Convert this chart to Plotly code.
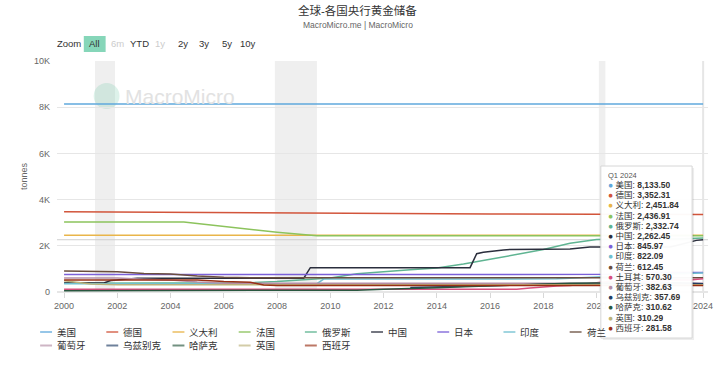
import plotly.graph_objects as go

# ---------------- data (tonnes, quarterly readings) ----------------
countries = ["美国", "德国", "义大利", "法国", "俄罗斯", "中国", "日本", "印度",
             "荷兰", "土耳其", "葡萄牙", "乌兹别克", "哈萨克", "英国", "西班牙"]
colors = ["#5fa8dc", "#d2553b", "#e9b54a", "#8cc35c", "#5fb492", "#2b2e3d", "#7b60d8",
          "#6fc0d0", "#6a4e3e", "#d84f7d", "#b48ea6", "#223f66", "#28573f", "#bcb27a", "#992f15"]

us_dates = ["2000-01", "2005-01", "2024-01"]
us_vals = [8137.0, 8133.5, 8133.5]

de_dates = ["2000-01", "2004-01", "2008-01", "2010-01", "2012-01", "2016-01", "2020-01", "2024-01"]
de_vals = [3469, 3440, 3417, 3401, 3391, 3378, 3362, 3352.31]

it_dates = ["2000-01", "2024-01"]
it_vals = [2451.84, 2451.84]

fr_dates = ["2000-01", "2004-07", "2005-01", "2006-01", "2007-01", "2008-01", "2009-07", "2024-01"]
fr_vals = [3025, 3025, 2960, 2825, 2710, 2586, 2435, 2436.91]

ru_dates = ["2000-01", "2003-01", "2006-01", "2007-01", "2008-01", "2009-01", "2010-01", "2011-01",
            "2012-01", "2013-01", "2014-01", "2015-01", "2016-01", "2017-01", "2018-01", "2019-01",
            "2020-01", "2021-01", "2022-01", "2023-01", "2024-01"]
ru_vals = [384, 390, 387, 402, 450, 520, 608, 790, 883, 958, 1035, 1208, 1415, 1615, 1839, 2113,
           2271, 2299, 2298, 2299, 2332.74]

cn_dates = ["2000-01", "2001-07", "2001-10", "2002-10", "2009-01", "2009-04", "2015-04", "2015-07",
            "2015-10", "2016-01", "2016-07", "2016-10", "2018-10", "2019-01", "2019-10", "2022-10",
            "2023-01", "2023-04", "2023-07", "2023-10", "2024-01"]
cn_vals = [395, 395, 500, 600, 600, 1054, 1054, 1658, 1722, 1762, 1823, 1843, 1843, 1864, 1948, 1948,
           2010, 2076, 2165, 2235, 2262.45]

jp_dates = ["2000-01", "2003-01", "2004-01", "2020-10", "2021-01", "2024-01"]
jp_vals = [754, 754, 765, 765, 845.97, 845.97]

in_dates = ["2000-01", "2009-07", "2009-10", "2017-10", "2018-07", "2019-01", "2019-07", "2020-01",
            "2020-07", "2021-01", "2021-07", "2022-01", "2022-07", "2023-01", "2023-07", "2024-01"]
in_vals = [357.7, 357.7, 557.7, 557.8, 570, 598, 618, 640, 662, 680, 720, 754, 768, 787, 800, 822.09]

nl_dates = ["2000-01", "2001-01", "2002-01", "2003-01", "2004-01", "2005-01", "2006-01", "2007-01",
            "2008-01", "2024-01"]
nl_vals = [912, 893, 873, 800, 778, 694, 640, 621, 612.5, 612.45]

tr_dates = ["2000-01", "2017-01", "2017-07", "2018-01", "2018-07", "2019-01", "2019-07", "2020-01",
            "2020-07", "2021-01", "2021-07", "2022-01", "2022-07", "2023-01", "2023-07", "2024-01"]
tr_vals = [116, 116, 170, 230, 260, 285, 330, 400, 470, 450, 420, 440, 490, 530, 520, 570.30]

pt_dates = ["2000-01", "2001-01", "2002-01", "2003-01", "2004-01", "2005-01", "2006-01", "2007-01",
            "2024-01"]
pt_vals = [607, 600, 606, 555, 518, 429, 383, 382.5, 382.63]

uz_dates = ["2013-01", "2014-01", "2015-01", "2016-01", "2017-01", "2018-01", "2019-01", "2020-01",
            "2021-01", "2022-01", "2023-01", "2023-07", "2024-01"]
uz_vals = [190, 220, 240, 290, 320, 330, 360, 330, 340, 360, 400, 370, 357.69]

kz_dates = ["2000-01", "2004-01", "2008-01", "2010-01", "2011-01", "2012-01", "2013-01", "2014-01",
            "2015-01", "2016-01", "2017-01", "2018-01", "2019-01", "2020-01", "2021-01", "2022-01",
            "2023-01", "2024-01"]
kz_vals = [56, 55, 70, 67, 80, 115, 140, 185, 230, 270, 300, 340, 380, 385, 375, 355, 295, 310.62]

uk_dates = ["2000-01", "2001-01", "2002-01", "2003-01", "2024-01"]
uk_vals = [487, 347, 313, 312.5, 310.29]

es_dates = ["2000-01", "2005-01", "2006-01", "2007-01", "2007-07", "2008-01", "2024-01"]
es_vals = [523, 523, 457, 418, 300, 281.6, 281.58]

series_dates = [us_dates, de_dates, it_dates, fr_dates, ru_dates, cn_dates, jp_dates, in_dates,
                nl_dates, tr_dates, pt_dates, uz_dates, kz_dates, uk_dates, es_dates]
series_vals = [us_vals, de_vals, it_vals, fr_vals, ru_vals, cn_vals, jp_vals, in_vals,
               nl_vals, tr_vals, pt_vals, uz_vals, kz_vals, uk_vals, es_vals]

# recession periods (shaded bands)
recession_starts = ["2001-03-01", "2007-12-01", "2020-02-01"]
recession_ends = ["2001-11-30", "2009-06-30", "2020-04-30"]

y_tickvals = [0, 2000, 4000, 6000, 8000, 10000]
y_ticktext = ["0", "2K", "4K", "6K", "8K", "10K"]
range_buttons = ["Zoom", "All", "6m", "YTD", "1y", "2y", "3y", "5y", "10y"]
tooltip_title = "Q1 2024"

# ---------------- figure ----------------
FONT = "Liberation Sans, Noto Sans CJK SC, sans-serif"
W, H = 720, 370
PL, PR, PT, PB = 57, 713, 61, 292


def fx(X):
    return (X - PL) / (PR - PL)


def fy(Y):
    return (PB - Y) / (PB - PT)


fig = go.Figure()
for name, c, d, v in zip(countries, colors, series_dates, series_vals):
    fig.add_trace(go.Scatter(x=d, y=v, mode="lines", name=name,
                             line=dict(color=c, width=1.5), hoverinfo="skip",
                             showlegend=False))

shapes = []
for s, e in zip(recession_starts, recession_ends):
    shapes.append(dict(type="rect", xref="x", yref="paper", x0=s, x1=e, y0=0, y1=1,
                       fillcolor="#efefef", line=dict(width=0), layer="below"))

# crosshairs at hovered point
shapes.append(dict(type="line", xref="x", yref="paper", x0=cn_dates[-1], x1=cn_dates[-1],
                   y0=0, y1=1, line=dict(color="#e6e6e6", width=2), layer="below"))
shapes.append(dict(type="line", xref="paper", yref="y", x0=0, x1=1, y0=cn_vals[-1], y1=cn_vals[-1],
                   line=dict(color="#cfcfcf", width=1), layer="below"))

# watermark logo circle
shapes.append(dict(type="circle", xref="paper", yref="paper",
                   x0=fx(94), x1=fx(120), y0=fy(109), y1=fy(83),
                   fillcolor="rgba(120,205,170,0.25)", line=dict(width=0), layer="below"))

annotations = []
# title and subtitle
annotations.append(dict(text="全球-各国央行黄金储备", xref="paper", yref="paper", x=fx(360), y=fy(10),
                        showarrow=False, font=dict(size=11.5, color="#333333", family=FONT),
                        xanchor="center", yanchor="middle"))
annotations.append(dict(text="MacroMicro.me | MacroMicro", xref="paper", yref="paper", x=fx(360),
                        y=fy(25), showarrow=False, font=dict(size=8.5, color="#666666", family=FONT),
                        xanchor="center", yanchor="middle"))

# range selector
btn_x = [69, 95, 118, 140, 161, 184, 205, 228, 249]
btn_color = ["#333333", "#333333", "#cccccc", "#333333", "#cccccc", "#333333", "#333333", "#333333", "#333333"]
shapes.append(dict(type="rect", xref="paper", yref="paper", x0=fx(84), x1=fx(106), y0=fy(52), y1=fy(36),
                   fillcolor="#86d6b9", line=dict(width=0)))
for t, bx, bc in zip(range_buttons, btn_x, btn_color):
    annotations.append(dict(text=t, xref="paper", yref="paper", x=fx(bx), y=fy(44), showarrow=False,
                            font=dict(size=9.5, color=bc, family=FONT), xanchor="center",
                            yanchor="middle"))

# watermark text
annotations.append(dict(text="MacroMicro", xref="paper", yref="paper", x=fx(124), y=fy(96),
                        showarrow=False, font=dict(size=21, color="#e2e2e2", family=FONT),
                        xanchor="left", yanchor="middle"))

# legend (custom, Highcharts style); 土耳其 entry hidden under tooltip in reference
for i, (name, c) in enumerate(zip(countries, colors)):
    row, col = divmod(i, 10)
    if name == "土耳其":
        continue
    lx = 40 + col * 66.7
    ly = 332 + row * 13.5
    shapes.append(dict(type="line", xref="paper", yref="paper", x0=fx(lx), x1=fx(lx + 12),
                       y0=fy(ly), y1=fy(ly), line=dict(color=c, width=2), opacity=0.65))
    annotations.append(dict(text=name, xref="paper", yref="paper", x=fx(lx + 15), y=fy(ly),
                            showarrow=False, font=dict(size=9.5, color="#333333", family=FONT),
                            xanchor="left", yanchor="middle"))

# tooltip box
shapes.append(dict(type="rect", xref="paper", yref="paper", x0=fx(607), x1=fx(699),
                   y0=fy(340), y1=fy(168), fillcolor="rgba(0,0,0,0.07)", line=dict(width=0),
                   layer="above"))
shapes.append(dict(type="rect", xref="paper", yref="paper", x0=fx(605), x1=fx(697),
                   y0=fy(338), y1=fy(166), fillcolor="rgba(255,255,255,0.97)",
                   line=dict(color="#d6d6d6", width=1), layer="above"))
annotations.append(dict(text=tooltip_title, xref="paper", yref="paper", x=fx(611), y=fy(175),
                        showarrow=False, font=dict(size=7.5, color="#555555", family=FONT),
                        xanchor="left", yanchor="middle", borderpad=0, height=9))
for i, (name, c, v) in enumerate(zip(countries, colors, series_vals)):
    ry = 185 + i * 10.2
    annotations.append(dict(text=f'<span style="color:{c}">●</span> {name}: <b>{v[-1]:,.2f}</b>',
                            xref="paper", yref="paper", x=fx(611), y=fy(ry), showarrow=False,
                            font=dict(size=8.5, color="#333333", family=FONT), borderpad=0,
                            height=10, valign="middle", xanchor="left", yanchor="middle"))

fig.update_layout(
    width=W, height=H, autosize=False,
    margin=dict(l=PL, r=W - PR, t=PT, b=H - PB),
    paper_bgcolor="white", plot_bgcolor="white",
    font=dict(family=FONT, size=9, color="#666666"),
    showlegend=False,
    shapes=shapes,
    annotations=annotations,
    xaxis=dict(type="date", range=["1999-09-26", "2024-03-08"], tick0="2000-01-01", dtick="M24",
               tickformat="%Y", ticks="outside", ticklen=5, tickcolor="#d8d8d8",
               tickfont=dict(size=9, color="#666666"), showgrid=False, zeroline=False,
               showline=False, fixedrange=True),
    yaxis=dict(range=[0, 10000], tickvals=y_tickvals, ticktext=y_ticktext,
               gridcolor="#e6e6e6", gridwidth=1, zeroline=True, zerolinecolor="#e6e6e6",
               tickfont=dict(size=9, color="#666666"), ticklabelstandoff=6,
               title=dict(text="tonnes", font=dict(size=9, color="#666666"), standoff=4),
               showline=False, fixedrange=True),
)

fig.write_html("out.html")
